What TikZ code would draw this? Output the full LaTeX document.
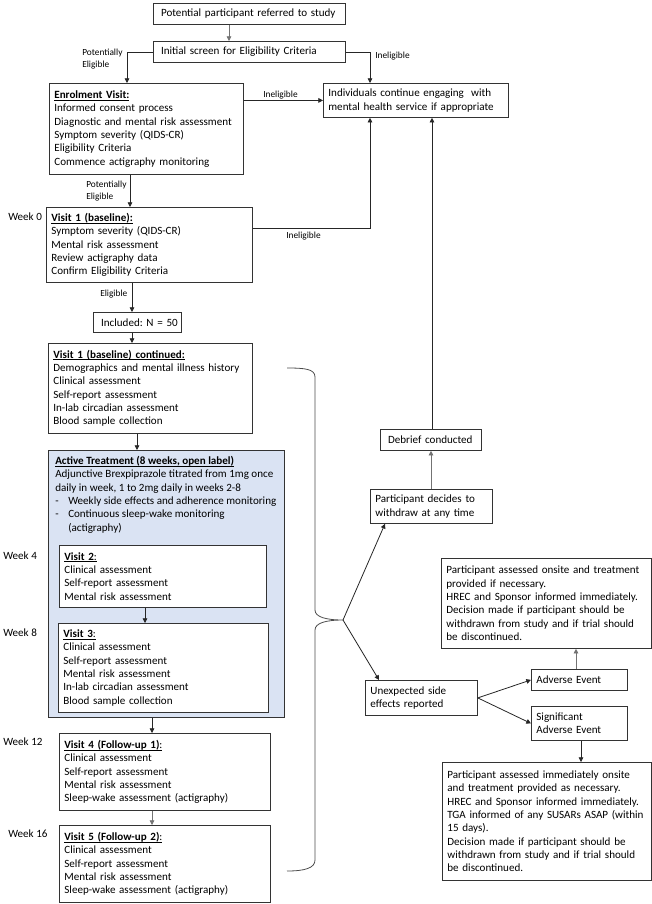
\documentclass[tikz,border=0pt]{standalone}
\usepackage{fontspec}
\setmainfont{Carlito}
\usepackage{tikz}
\usetikzlibrary{arrows.meta}

\definecolor{actfill}{RGB}{218,227,243}
\newcommand{\bodyfont}{\fontsize{8.3}{10}\selectfont\frenchspacing}
\newcommand{\lblfont}{\fontsize{7}{8.5}\selectfont}
\newcommand{\ulbox}[1]{\leavevmode\setbox0\hbox{#1}\rlap{\rule[-1.3pt]{\wd0}{0.45pt}}\box0}
\newcommand{\hdr}[1]{\ulbox{\textbf{#1}}}
\newcommand{\dashitem}{\makebox[9.75pt][l]{-}}

\tikzset{
  box/.style 2 args={draw=black!80, fill=white, line width=0.6pt, anchor=north west,
    align=left, inner xsep=3.75pt, inner ysep=0pt, minimum width=#1*0.75pt,
    text width=#1*0.75pt-7.5pt, minimum height=#2*0.75pt, font=\bodyfont},
  lbl/.style={anchor=west, inner sep=0pt, align=left, font=\lblfont},
  week/.style={anchor=west, inner sep=0pt, font=\bodyfont},
  arr/.style={-{Triangle[length=3.5pt,width=3.5pt]}, line width=0.6pt, draw=black!85},
  dimline/.style={draw=black!55},
}

\begin{document}
\begin{tikzpicture}[x=0.75pt,y=0.75pt,yscale=-1,xscale=1]
\useasboundingbox (0,0) rectangle (652,904);

% Screening
\node[box={192}{21}] (refer) at (153,3) {\hspace{2pt}Potential participant referred to study};
\node[box={192}{21}] (screen) at (153,41) {\hspace{2pt}Initial screen for Eligibility Criteria};
\node[box={185}{34}] (indiv) at (323,83) {Individuals continue engaging\ \ with\\mental health service if appropriate};
\node[box={194}{91}] (enrol) at (49,83) {\hdr{Enrolment Visit:}\\Informed consent process\\Diagnostic and mental risk assessment\\Symptom severity (QIDS-CR)\\Eligibility Criteria\\Commence actigraphy monitoring};
\node[box={206}{75}] (visit1) at (46,207) {\hdr{Visit 1 (baseline):}\\Symptom severity (QIDS-CR)\\Mental risk assessment\\Review actigraphy data\\Confirm Eligibility Criteria};
\node[box={88}{20}] (incl) at (93,312) {\mbox{\hspace{2pt}Included: N = 50}};
\node[box={204}{90}] (v1c) at (48,343) {\hdr{Visit 1 (baseline) continued:}\\Demographics and mental illness history\\Clinical assessment\\Self-report assessment\\In-lab circadian assessment\\Blood sample collection};

% Active treatment
\node[box={236}{267}, fill=actfill] (active) at (48,450) {};
\node[anchor=north west, inner sep=0pt, align=left, font=\bodyfont] (acttxt) at (55,456) {\hdr{Active Treatment (8 weeks, open label)}\\Adjunctive Brexpiprazole titrated from 1mg once\\daily in week, 1 to 2mg daily in weeks 2-8\\\dashitem Weekly side effects and adherence monitoring\\\dashitem Continuous sleep-wake monitoring\\\hspace*{9.75pt}(actigraphy)};
\node[box={207}{62}] (v2) at (59,545) {\ulbox{\textbf{Visit 2}:}\\Clinical assessment\\Self-report assessment\\Mental risk assessment};
\node[box={210}{89}] (v3) at (58,623) {\ulbox{\textbf{Visit 3}:}\\Clinical assessment\\Self-report assessment\\Mental risk assessment\\In-lab circadian assessment\\Blood sample collection};

% Follow-up
\node[box={211}{77}] (v4) at (59,733) {\ulbox{\textbf{Visit 4 (Follow-up 1)}:}\\Clinical assessment\\Self-report assessment\\Mental risk assessment\\Sleep-wake assessment (actigraphy)};
\node[box={211}{77}] (v5) at (59,825) {\ulbox{\textbf{Visit 5 (Follow-up 2)}:}\\Clinical assessment\\Self-report assessment\\Mental risk assessment\\Sleep-wake assessment (actigraphy)};

% Withdrawal and side effects
\node[box={101}{21}] (debrief) at (380,429) {\hspace{2pt}Debrief conducted};
\node[box={122}{34}] (withdraw) at (370,489) {Participant decides to\\withdraw at any time};
\node[box={112}{35}] (sidefx) at (365,680) {Unexpected side\\effects reported};
\node[box={96}{21}] (ae) at (531,669) {Adverse Event};
\node[box={96}{34}] (sae) at (531,706) {Significant\\Adverse Event};
\node[box={210}{90}] (aebox) at (441,558) {Participant assessed onsite and treatment\\provided if necessary.\\HREC and Sponsor informed immediately.\\Decision made if participant should be\\withdrawn from study and if trial should\\be discontinued.};
\node[box={209}{118}] (saebox) at (442,762) {Participant assessed immediately onsite\\and treatment provided as necessary.\\HREC and Sponsor informed immediately.\\TGA informed of any SUSARs ASAP (within\\15 days).\\Decision made if participant should be\\withdrawn from study and if trial should\\be discontinued.};

% Week labels
\node[week] (wk0) at (8,217) {Week 0};
\node[week] (wk4) at (3,556) {Week 4};
\node[week] (wk8) at (3,633) {Week 8};
\node[week] (wk12) at (3,742) {Week 12};
\node[week] (wk16) at (8,834) {Week 16};

% Connector labels
\node[lbl] (pelig1) at (82,59) {Potentially\\Eligible};
\node[lbl] (inelig1) at (375,56) {Ineligible};
\node[lbl] (inelig2) at (263,95) {Ineligible};
\node[lbl] (pelig2) at (86,191) {Potentially\\Eligible};
\node[lbl] (inelig3) at (286,236) {Ineligible};
\node[lbl] (elig) at (100,294) {Eligible};

%Straight Lines
\draw[arr, dimline] (229,0 |- refer.south) -- (229,0 |- screen.north);
\draw[arr] (screen.west) -| (127,0 |- enrol.north);
\draw[arr] (screen.east) -| (370,0 |- indiv.north);
\draw[arr] (enrol.east |- indiv.west) -- (indiv.west);
\draw[arr] (130,0 |- enrol.south) -- (130,0 |- visit1.north);
\draw[arr] (visit1.east |- 0,228) -| (370,0 |- indiv.south);
\draw[arr] (132,0 |- visit1.south) -- (132,0 |- incl.north);
\draw[arr] (132,0 |- incl.south) -- (132,0 |- v1c.north);
\draw[arr] (137,0 |- v1c.south) -- (137,0 |- active.north);
\draw[arr] (145,0 |- v2.south) -- (145,0 |- v3.north);
\draw[arr] (152,0 |- active.south) -- (152,0 |- v4.north);
\draw[arr, dimline] (152,0 |- v4.south) -- (152,0 |- v5.north);
\draw[arr, dimline] (431,0 |- withdraw.north) -- (431,0 |- debrief.south);
\draw[arr] (432,0 |- debrief.north) -- (432,0 |- indiv.south);

% Brace
\coordinate (tip) at (343,620);
\draw[line width=0.6pt, draw=black!70] (287,368) .. controls (305,368) and (315,369) .. (315,377) -- (315,610)
  .. controls (315,617) and (326,620) .. (tip)
  .. controls (326,620) and (315,623) .. (315,630) -- (315,860)
  .. controls (315,868) and (305,871) .. (287,871);
\draw[arr] (tip) -- (385,0 |- withdraw.south);
\draw[arr] (tip) -- (379,0 |- sidefx.north);

\draw[arr] (sidefx.east) -- (ae.west);
\draw[arr] (sidefx.east) -- (sae.west);
\draw[arr, dimline] (576,0 |- ae.north) -- (576,0 |- aebox.south);
\draw[arr] (581,0 |- sae.south) -- (581,0 |- saebox.north);

\end{tikzpicture}
\end{document}
